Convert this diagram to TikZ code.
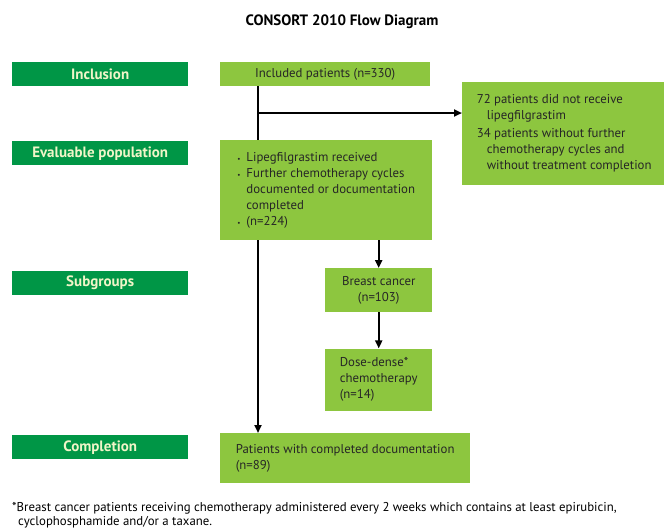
\documentclass[tikz,border=0pt]{standalone}
\usepackage{fontspec}
\setmainfont{PT Sans}
\usetikzlibrary{positioning, arrows.meta}
\definecolor{stagegreen}{RGB}{0,150,70}
\definecolor{boxgreen}{RGB}{141,198,63}
\definecolor{stagetext}{RGB}{240,245,200}

\begin{document}
\begin{tikzpicture}[
    x=1pt, y=-1pt,
    >={Triangle[length=8pt,width=7pt]},
    node distance=36pt,
    stage/.style={rectangle, fill=stagegreen, text=stagetext, minimum width=176pt, minimum height=24pt, inner sep=0pt, anchor=north west, font=\fontsize{15}{17}\selectfont\bfseries},
    box/.style={rectangle, fill=boxgreen, text=black!85, inner sep=0pt, anchor=north west, font=\fontsize{12.8}{16}\selectfont},
    line/.style={line width=2pt},
    arrow/.style={line width=2pt,->}
]
\useasboundingbox (0,0) rectangle (664,531);
% Title
\node (title) at (342,22) {\fontsize{15}{17}\selectfont\bfseries CONSORT 2010 Flow Diagram};
% Stages
\node (inclusion) [stage] at (12,62) {Inclusion};
\node (evaluable) [stage] at (12,141) {Evaluable population};
\node (subgroups) [stage] at (12,271) {Subgroups};
\node (completion) [stage] at (12,435) {Completion};
% Boxes
\node (included) [box, minimum width=210pt, minimum height=24pt] at (220,62) {Included patients (n=330)};
\node (lipeg) [box, minimum width=212pt, minimum height=100pt, align=left] at (220,140) {%
    \begin{tabular}{@{}l@{\hspace{6pt}}l@{}}
    {\scriptsize\textbullet} & Lipegfilgrastim received\\
    {\scriptsize\textbullet} & Further chemotherapy cycles\\
     & documented or documentation\\
     & completed\\
    {\scriptsize\textbullet} & (n=224)
    \end{tabular}};
\node (excluded) [box, minimum width=204pt, minimum height=103pt, align=left] at (462,82) {%
    72 patients did not receive\\
    \hspace*{10pt}lipegfilgrastim\\[2pt]
    34 patients without further\\
    \hspace*{10pt}chemotherapy cycles and\\
    \hspace*{10pt}without treatment completion};
\node (breast) [box, minimum width=107pt, minimum height=44pt, align=center] at (325,268) {Breast cancer\\(n=103)};
\node (dose) [box, minimum width=107pt, minimum height=62pt, align=left, below=36pt of breast] {Dose-dense*\\chemotherapy\\(n=14)};
\node (done) [box, minimum width=250pt, minimum height=50pt, align=left] at (220,433) {Patients with completed documentation\\(n=89)};
% Connectors
\coordinate (split) at (258,113);
\draw [line] (included.south -| split) -- (lipeg.north -| split);
\draw [arrow] (split) -- (excluded.west |- split);
\draw [arrow] (lipeg.south -| split) -- (done.north -| split);
\draw [arrow] (lipeg.south -| breast) -- (breast.north);
\draw [arrow] (breast.south) -- (dose.north);
% Footnote
\node (note) [anchor=north west, align=left, inner sep=0pt, font=\fontsize{12.8}{14}\selectfont] at (12,502) {*Breast cancer patients receiving chemotherapy administered every 2 weeks which contains at least epirubicin,\\\hspace*{6pt}cyclophosphamide and/or a taxane.};
\end{tikzpicture}
\end{document}
